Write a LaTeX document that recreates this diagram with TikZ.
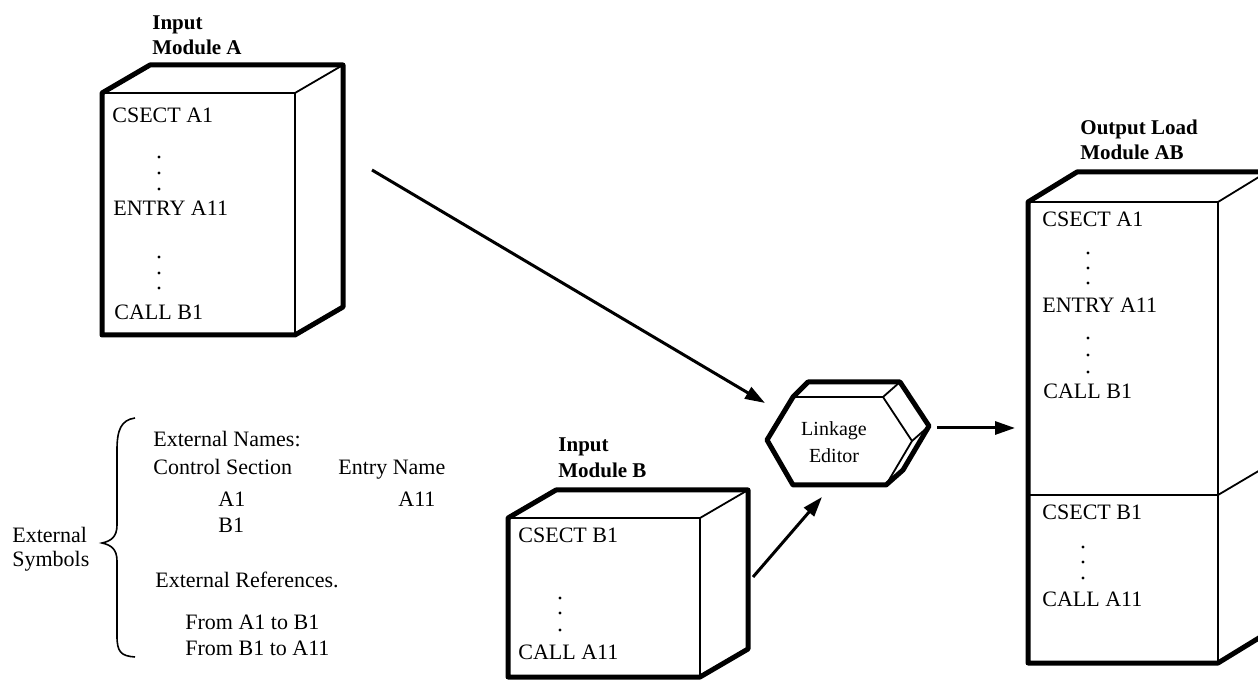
\documentclass[tikz,border=0pt]{standalone}
\usepackage{fontspec}
\setmainfont{Liberation Serif}
\usetikzlibrary{arrows.meta}
\begin{document}
\begin{tikzpicture}[x=0.5pt,y=-0.5pt,
  thickedge/.style={line width=2.5pt, line join=round},
  thinedge/.style={line width=0.9pt},
  txt/.style={anchor=base west, inner sep=0pt, font=\fontsize{11}{13}\selectfont},
  lbl/.style={anchor=base west, inner sep=0pt, font=\fontsize{10.5}{12}\selectfont\bfseries},
  arr/.style={line width=1.5pt, -{Triangle[length=10pt,width=6.5pt]}},
  brace/.style={line width=0.8pt}]
\useasboundingbox (0,0) rectangle (1258,683);
\clip (0,0) rectangle (1258,683);

% ---------- Input Module A ----------
\node[lbl] (labA1) at (152,30) {Input};
\node[lbl] (labA2) at (152,55) {Module A};
\draw[thinedge] (102,93) -- (295,93) -- (295,335) (295,93) -- (343,65);
\draw[thickedge] (102,335) -- (102,93) -- (150,65) -- (343,65) -- (343,307) -- (295,335) -- cycle;
\node[txt] (a1) at (112,123) {CSECT A1};
\foreach \y in {157,173,189,257,273,288} \fill (159,\y) circle (1.6);
\node[txt] (a2) at (113,216) {ENTRY A11};
\node[txt] (a3) at (114,320) {CALL B1};

% ---------- Input Module B ----------
\node[lbl] (labB1) at (558,452) {Input};
\node[lbl] (labB2) at (558,478) {Module B};
\draw[thinedge] (508,518) -- (700,518) -- (700,677) (700,518) -- (748,490);
\draw[thickedge] (508,677) -- (508,518) -- (556,490) -- (748,490) -- (748,649) -- (700,677) -- cycle;
\node[txt] (b1) at (518,543) {CSECT B1};
\foreach \y in {598,613,630} \fill (560,\y) circle (1.6);
\node[txt] (b2) at (518,660) {CALL A11};

% ---------- Output Load Module AB ----------
\node[lbl] (labC1) at (1080,135) {Output Load};
\node[lbl] (labC2) at (1080,160) {Module AB};
\draw[thinedge] (1028,202) -- (1218,202) -- (1218,663) (1218,202) -- (1267,172);
\draw[thinedge] (1028,495) -- (1218,495) -- (1267,466);
\draw[thickedge] (1028,663) -- (1028,202) -- (1077,172) -- (1267,172) -- (1267,633) -- (1218,663) -- cycle;
\node[txt] (c1) at (1042,227) {CSECT A1};
\foreach \y in {253,268,283,338,355,372} \fill (1088,\y) circle (1.6);
\node[txt] (c2) at (1042,313) {ENTRY A11};
\node[txt] (c3) at (1043,399) {CALL B1};
\node[txt] (c4) at (1042,520) {CSECT B1};
\foreach \y in {547,562,578} \fill (1083,\y) circle (1.6);
\node[txt] (c5) at (1042,607) {CALL A11};

% ---------- Linkage Editor ----------
\draw[thinedge] (793,397) -- (883,397) -- (912,441) -- (886,485) (883,397) -- (900,382) (912,441) -- (929,426);
\draw[thickedge] (767,440) -- (793,397) -- (808,382) -- (900,382) -- (929,426) -- (903,470) -- (886,485) -- (793,485) -- cycle;
\node[align=center, inner sep=0pt, font=\fontsize{10}{13.5}\selectfont] (le) at (834,442) {Linkage\\Editor};

% ---------- arrows ----------
\coordinate (p1) at (372,170);
\coordinate (q1) at (765,403);
\coordinate (p2) at (753,577);
\coordinate (q2) at (822,497);
\coordinate (p3) at (937,428);
\coordinate (q3) at (1015,428);
\draw[arr] (p1) -- (q1);
\draw[arr] (p2) -- (q2);
\draw[arr] (p3) -- (q3);

% ---------- External symbols ----------
\node[txt] (es1) at (12,543) {External};
\node[txt] (es2) at (12,567) {Symbols};
\draw[brace] (135,418) .. controls (121,420) and (117,430) .. (117,450) -- (117,525)
  .. controls (117,537) and (111,541) .. (102,543)
  .. controls (111,545) and (117,549) .. (117,561) -- (117,636)
  .. controls (117,652) and (121,656) .. (135,657);
\node[txt] (e1) at (153,447) {External Names:};
\node[txt] (e2) at (153,475) {Control Section};
\node[txt] (e3) at (338,475) {Entry Name};
\node[txt] (e4) at (218,507) {A1};
\node[txt] (e5) at (398,507) {A11};
\node[txt] (e6) at (218,533) {B1};
\node[txt] (e7) at (155,588) {External References.};
\node[txt] (e8) at (185,630) {From A1 to B1};
\node[txt] (e9) at (185,655) {From B1 to A11};
\end{tikzpicture}
\end{document}
